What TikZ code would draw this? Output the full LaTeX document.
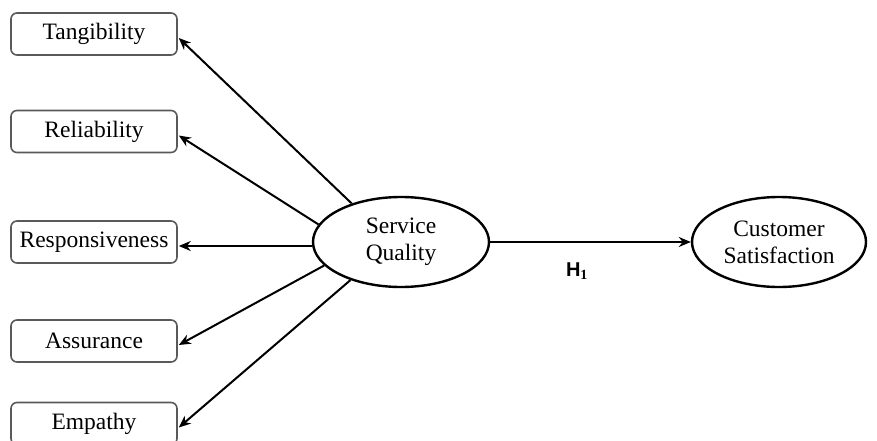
\documentclass[tikz,border=0pt]{standalone}
\usepackage{fontspec}
\setmainfont{Liberation Serif}
\newfontfamily\arialf{Liberation Sans}
\usetikzlibrary{arrows.meta,calc,shapes.geometric}
\begin{document}
\begin{tikzpicture}[x=1pt,y=-1pt,
  dimbox/.style={draw=black!65,line width=1.6pt,rounded corners=6pt,minimum width=166pt,minimum height=42pt,inner sep=0pt,font=\fontsize{23.5}{27}\selectfont},
  latent/.style={draw=black,line width=2.4pt,ellipse,minimum width=176pt,minimum height=90pt,inner sep=0pt,align=center,font=\fontsize{23.5}{27}\selectfont},
  link/.style={line width=2pt,-{Stealth[length=12pt,width=10pt]}}]
\useasboundingbox (0,0) rectangle (877,441);
\node[dimbox] (tan) at (94,34) {Tangibility};
\node[dimbox] (rel) at (94,131.5) {Reliability};
\node[dimbox] (res) at (94,242) {Responsiveness};
\node[dimbox] (ass) at (94,341) {Assurance};
\node[dimbox] (emp) at (94,423.5) {Empathy};
\node[latent] (sq) at (401,242) {Service\\Quality};
\node[latent,minimum width=174pt] (cs) at (779,242) {Customer\\Satisfaction};
\draw[link] (sq.142) -- ($(tan.east)+(1,4)$);
\draw[link] (sq.168) -- ($(rel.east)+(1,4)$);
\draw[link] (sq.west |- 0,246) -- ($(res.east)+(1,4)$);
\draw[link] (sq.197) -- ($(ass.east)+(1,4)$);
\draw[link] (sq.217) -- ($(emp.east)+(1,4)$);
\draw[link] (sq.east) -- (cs.west);
\node[font=\arialf\bfseries\fontsize{20}{22}\selectfont] (h1) at (577,271) {H$_{\mathbf{1}}$};
\end{tikzpicture}
\end{document}
